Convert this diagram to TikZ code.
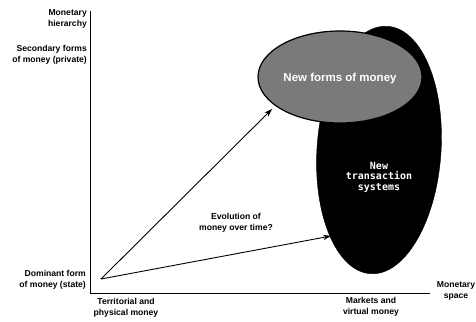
\documentclass[tikz,border=0pt]{standalone}
\usepackage{fontspec}
\setmainfont{Liberation Sans}
\setmonofont{DejaVu Sans Mono}
\usetikzlibrary{arrows.meta,shapes.geometric}
\begin{document}
\begin{tikzpicture}[x=1pt,y=-1pt,
  lbl/.style={font=\bfseries\fontsize{8.6}{11}\selectfont, align=center, inner sep=0pt},
  lblr/.style={lbl, align=right, anchor=east},
  axis/.style={line width=1pt},
  arr/.style={line width=0.9pt, -{Stealth[length=8pt,width=5.5pt]}},
  wtxt/.style={font=\bfseries\fontsize{11.5}{12}\selectfont, text=white, align=center, inner sep=0pt}]
\useasboundingbox (0,0) rectangle (476,321);
% axes
\coordinate (top) at (90,11);
\coordinate (orig) at (90,293);
\coordinate (right) at (430,293);
\draw[axis] (top) -- (orig) -- (right);
% ellipses
\node[ellipse, fill=black, draw=black, minimum width=124pt, minimum height=248pt, rotate=-4] (dark) at (379,150) {};
\node[ellipse, fill=black!52, draw=black, line width=1.2pt, minimum width=164pt, minimum height=92pt] (gray) at (340,77) {};
\node[wtxt] (nfm) at (340,79) {New forms of money};
\node[wtxt, font=\bfseries\ttfamily\fontsize{10}{10.5}\selectfont] (nts) at (379,177) {New\\transaction\\systems};
% labels
\node[lblr] (mh) at (87,19) {Monetary\\hierarchy};
\node[lblr] (sf) at (87,55) {Secondary forms\\of money (private)};
\node[lblr] (df) at (86,280) {Dominant form\\of money (state)};
\node[lbl] (tp) at (126,308) {Territorial and\\physical money};
\node[lbl] (mv) at (371,307) {Markets and\\virtual money};
\node[lbl] (ms) at (456,291) {Monetary\\space};
\node[lbl] (ev) at (236,223) {Evolution of\\money over time?};
% arrows
\coordinate (start) at (101,279);
\coordinate (tip1) at (272,109);
\coordinate (tip2) at (331,236);
\draw[arr] (start) -- (tip1);
\draw[arr] (start) -- (tip2);
\end{tikzpicture}
\end{document}
